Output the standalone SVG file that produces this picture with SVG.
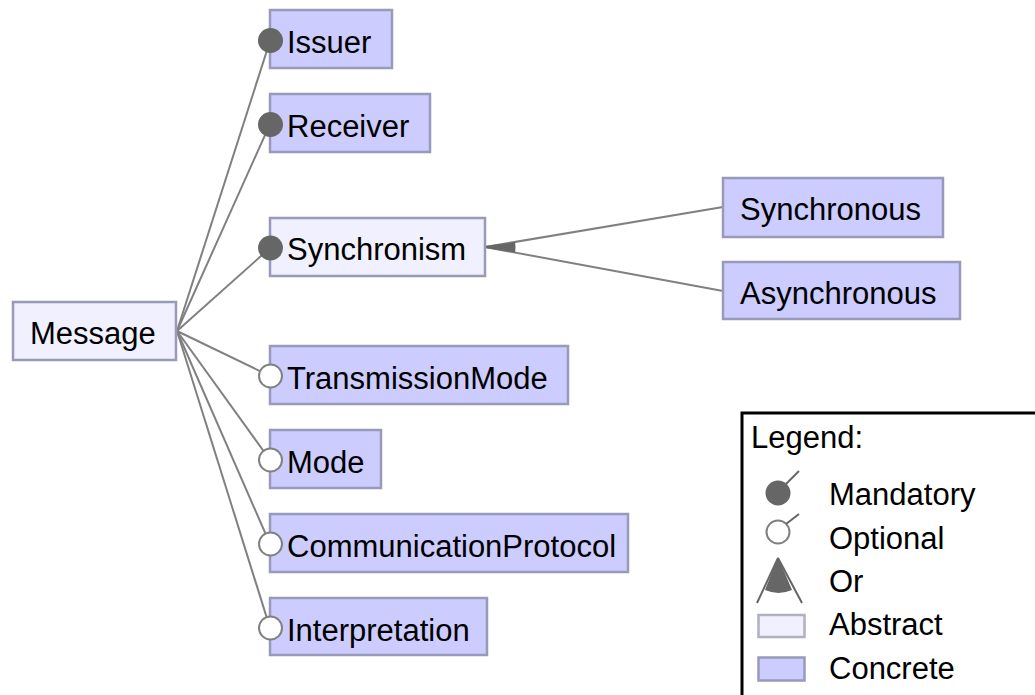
<svg xmlns="http://www.w3.org/2000/svg" width="1035" height="695" viewBox="0 0 1035 695">
<style>
text{font-family:"Liberation Sans",Arial,sans-serif;font-size:31px;fill:#000}
.c{fill:#ccccff;stroke:#9999bb;stroke-width:2.5}
.a{fill:#f0f0ff;stroke:#9999bb;stroke-width:2.5}
.l{stroke:#808080;stroke-width:2;fill:none}
.m{fill:#666666;stroke:none}
.o{fill:#ffffff;stroke:#808080;stroke-width:2}
</style>
<rect width="1035" height="695" fill="#ffffff"/>
<g id="connectors">
<line class="l" x1="177" y1="331" x2="270" y2="41"/>
<line class="l" x1="177" y1="331" x2="270" y2="124"/>
<line class="l" x1="177" y1="331" x2="270" y2="248"/>
<line class="l" x1="177" y1="331" x2="270" y2="376"/>
<line class="l" x1="177" y1="331" x2="270" y2="460"/>
<line class="l" x1="177" y1="331" x2="270" y2="544"/>
<line class="l" x1="177" y1="331" x2="270" y2="628"/>
<line class="l" x1="485" y1="247" x2="723" y2="207"/>
<line class="l" x1="485" y1="247" x2="723" y2="291"/>
<path class="m" d="M485,246 L515,242 A30,30 0 0 1 515,252.5 L485,248 Z"/>
</g>
<g id="Message"><rect class="a" x="13" y="302" width="163" height="58"/><text x="30" y="344">Message</text></g>
<g id="Issuer"><rect class="c" x="270" y="10" width="122" height="58"/><circle class="m" cx="270.5" cy="40.5" r="12.5"/><text x="287" y="52.5">Issuer</text></g>
<g id="Receiver"><rect class="c" x="270" y="94" width="160" height="58"/><circle class="m" cx="270.5" cy="124.5" r="12.5"/><text x="287" y="136.5">Receiver</text></g>
<g id="Synchronism"><rect class="a" x="270" y="218" width="215" height="58"/><circle class="m" cx="270.5" cy="248" r="12.5"/><text x="287" y="260">Synchronism</text></g>
<g id="TransmissionMode"><rect class="c" x="270" y="346" width="298" height="58"/><circle class="o" cx="270.5" cy="376" r="11.5"/><text x="287" y="388.5">TransmissionMode</text></g>
<g id="Mode"><rect class="c" x="270" y="430" width="111" height="58"/><circle class="o" cx="270.5" cy="460" r="11.5"/><text x="287" y="472.5">Mode</text></g>
<g id="CommunicationProtocol"><rect class="c" x="270" y="514" width="358" height="58"/><circle class="o" cx="270.5" cy="544" r="11.5"/><text x="287" y="556.5">CommunicationProtocol</text></g>
<g id="Interpretation"><rect class="c" x="270" y="598" width="217" height="57"/><circle class="o" cx="270.5" cy="628" r="11.5"/><text x="287" y="640.5">Interpretation</text></g>
<g id="Synchronous"><rect class="c" x="723" y="178" width="220" height="59"/><text x="740" y="220">Synchronous</text></g>
<g id="Asynchronous"><rect class="c" x="723" y="262" width="237" height="57"/><text x="740" y="303.5">Asynchronous</text></g>
<g id="legend">
<rect x="742" y="413" width="300" height="300" fill="#ffffff" stroke="#000000" stroke-width="3"/>
<text x="751" y="448">Legend:</text>
<circle class="m" cx="778" cy="493" r="12.5"/>
<line x1="786" y1="484" x2="799" y2="471" stroke="#666666" stroke-width="2"/>
<text x="829" y="505">Mandatory</text>
<circle class="o" cx="778" cy="532" r="11.5"/>
<line x1="786" y1="524" x2="799" y2="514" stroke="#666666" stroke-width="2"/>
<text x="829" y="548.5">Optional</text>
<path class="m" d="M778,557 L765,590 A34,34 0 0 0 792,590 Z"/>
<line x1="778" y1="558" x2="757" y2="603" stroke="#666666" stroke-width="2"/>
<line x1="778" y1="558" x2="802" y2="603" stroke="#666666" stroke-width="2"/>
<text x="829" y="592">Or</text>
<rect x="758.5" y="615" width="46" height="22" fill="#f0f0ff" stroke="#b0b0c0" stroke-width="2.5"/>
<text x="829" y="635">Abstract</text>
<rect x="758.5" y="657.5" width="46" height="23" fill="#ccccff" stroke="#9999bb" stroke-width="2.5"/>
<text x="829" y="678.5">Concrete</text>
</g>
</svg>
